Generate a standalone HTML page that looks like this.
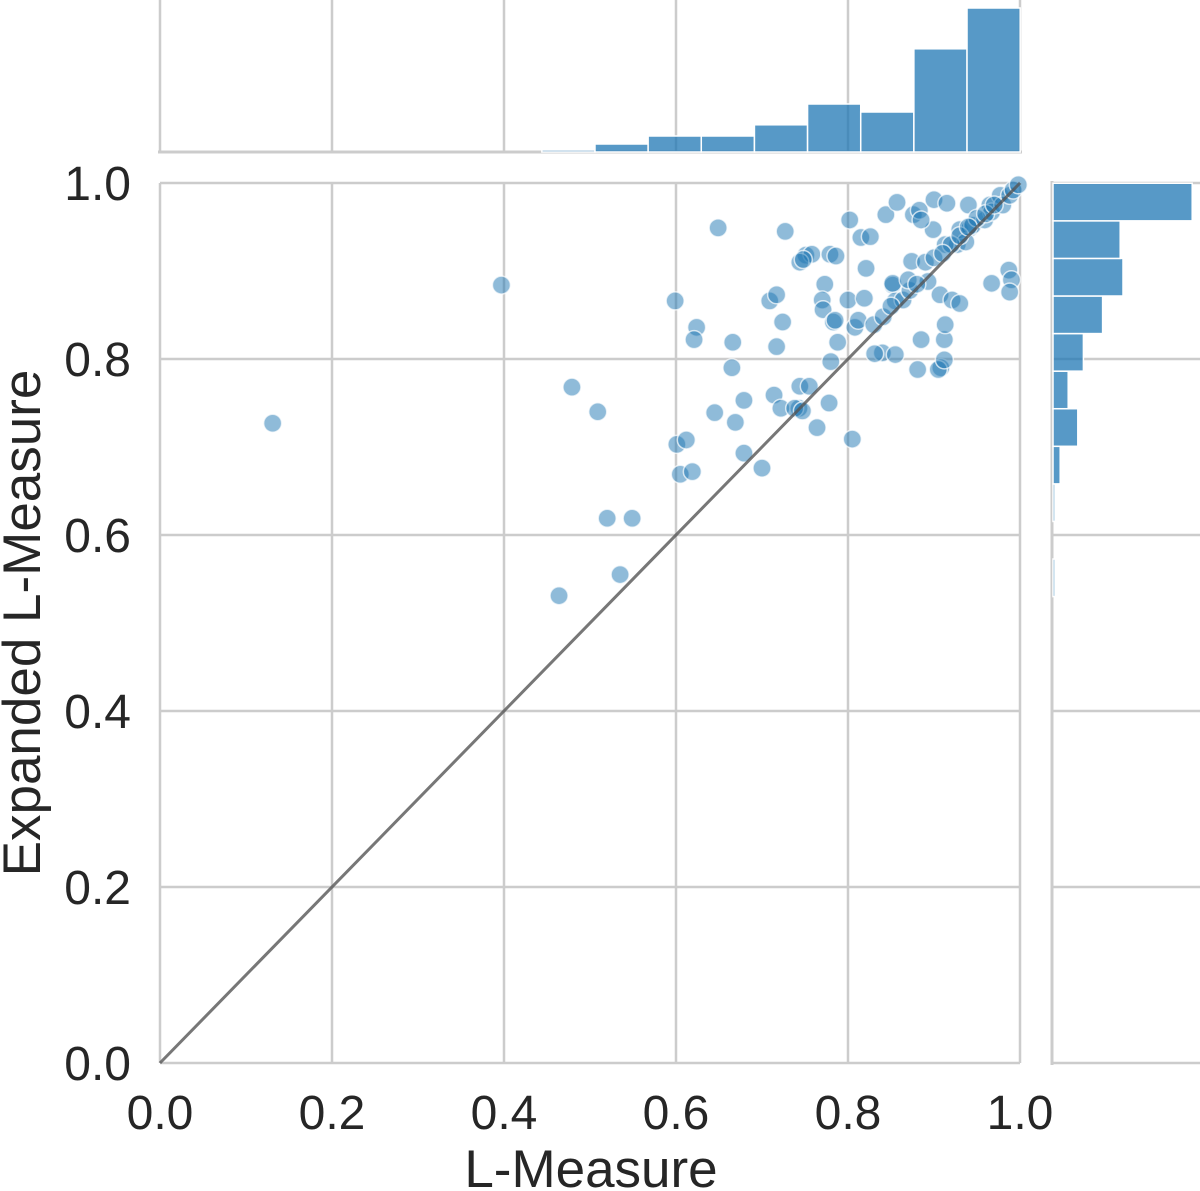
<!DOCTYPE html>
<html><head><meta charset="utf-8"><style>
html,body{margin:0;padding:0;background:#fff;}
svg{display:block;font-family:"Liberation Sans",Arial,sans-serif;}
</style></head><body>
<svg id="chart" width="1200" height="1191" viewBox="0 0 1200 1191"></svg>
<script>
const xs=[0.131,0.397,0.479,0.509,0.464,0.520,0.549,0.535,0.599,0.624,0.621,0.649,0.666,0.665,0.679,0.669,0.601,0.612,0.605,0.619,0.645,0.679,0.700,0.709,0.717,0.724,0.717,0.727,0.714,0.722,0.743,0.738,0.747,0.744,0.755,0.764,0.778,0.805,0.751,0.758,0.744,0.748,0.773,0.770,0.771,0.779,0.786,0.783,0.780,0.785,0.800,0.802,0.788,0.808,0.812,0.815,0.821,0.819,0.826,0.830,0.841,0.840,0.844,0.831,0.852,0.857,0.855,0.852,0.855,0.864,0.874,0.881,0.885,0.899,0.893,0.872,0.876,0.883,0.885,0.900,0.908,0.905,0.912,0.912,0.915,0.907,0.913,0.921,0.930,0.927,0.913,0.930,0.942,0.940,0.937,0.945,0.959,0.965,0.967,0.977,0.980,0.988,0.992,0.998,0.987,0.990,0.988,0.967,0.85,0.87,0.89,0.90,0.92,0.93,0.95,0.96,0.97,0.88,0.91,0.94];
const ys=[0.727,0.884,0.768,0.740,0.531,0.619,0.619,0.555,0.866,0.836,0.822,0.949,0.819,0.790,0.753,0.728,0.703,0.708,0.669,0.672,0.739,0.693,0.676,0.866,0.873,0.842,0.814,0.945,0.759,0.744,0.744,0.744,0.741,0.769,0.769,0.722,0.750,0.709,0.918,0.919,0.910,0.913,0.885,0.867,0.856,0.919,0.917,0.842,0.797,0.844,0.867,0.958,0.819,0.836,0.844,0.938,0.903,0.869,0.939,0.839,0.848,0.807,0.964,0.806,0.884,0.978,0.866,0.886,0.805,0.867,0.911,0.788,0.822,0.947,0.888,0.878,0.964,0.969,0.958,0.981,0.790,0.788,0.822,0.799,0.977,0.873,0.839,0.867,0.863,0.930,0.930,0.947,0.949,0.975,0.933,0.952,0.958,0.975,0.967,0.986,0.975,0.986,0.992,0.998,0.901,0.890,0.876,0.886,0.86,0.89,0.91,0.915,0.93,0.94,0.96,0.965,0.975,0.885,0.92,0.95];
const topBinStart=0.135, topBinW=0.0618;
const topCounts=[0,0,0,0,0,0.25,1,2,2,3.4,6,5,12.9,18];
const rightBinStart=0.53, rightBinW=0.0427;
const rightCounts=[0.25,0,0.25,0.9,3.1,1.9,3.8,6.2,8.75,8.4,17.4];
const ticks=[0,0.2,0.4,0.6,0.8,1.0];
const tickLabels=["0.0","0.2","0.4","0.6","0.8","1.0"];

const NS="http://www.w3.org/2000/svg";
const svg=document.getElementById('chart');
const X=v=>160+v*860, Y=v=>1063-v*880;
const TH=c=>152-c*8, RW=c=>c*8;
function mk(t,a,p){const e=document.createElementNS(NS,t);for(const k in a)e.setAttribute(k,a[k]);(p||svg).appendChild(e);return e;}
const grid="#cccccc";
ticks.forEach((t,i)=>{
  const gx=mk('line',{x1:X(t),x2:X(t),y1:183,y2:1063,stroke:grid,'stroke-width':2.5});
  
  
  const gy=mk('line',{x1:160,x2:1020,y1:Y(t),y2:Y(t),stroke:grid,'stroke-width':2.5});
  
  
  const tg=mk('line',{x1:X(t),x2:X(t),y1:0,y2:152,stroke:grid,'stroke-width':2.5});
  
  
  const rg=mk('line',{x1:1052,x2:1200,y1:Y(t),y2:Y(t),stroke:grid,'stroke-width':2.5});
  
  
  const xl=mk('text',{x:X(t),y:1129,'text-anchor':'middle','font-size':48,fill:'#262626'});
  xl.textContent=tickLabels[i];
  
  
  const yl=mk('text',{x:131,y:Y(t)+17,'text-anchor':'end','font-size':48,fill:'#262626'});
  yl.textContent=tickLabels[i];
  
  
});
const s1=mk('line',{x1:158,x2:1022,y1:152,y2:152,stroke:grid,'stroke-width':3});


const s2=mk('line',{x1:1052,x2:1052,y1:181,y2:1065,stroke:grid,'stroke-width':3});


topCounts.forEach((c,i)=>{
  if(c<=0)return;
  const x0=X(topBinStart+i*topBinW), x1=X(topBinStart+(i+1)*topBinW);
  const r=mk('rect',{x:x0,y:TH(c),width:x1-x0,height:152-TH(c),fill:'#1f77b4','fill-opacity':0.75,stroke:'#fff','stroke-width':1.5});
  
  
});
rightCounts.forEach((c,i)=>{
  if(c<=0)return;
  const y0=Y(rightBinStart+(i+1)*rightBinW), y1=Y(rightBinStart+i*rightBinW);
  const r=mk('rect',{x:1053,y:y0,width:RW(c),height:y1-y0,fill:'#1f77b4','fill-opacity':0.75,stroke:'#fff','stroke-width':1.5});
  
  
});
xs.forEach((v,i)=>{
  const c=mk('circle',{cx:X(v),cy:Y(ys[i]),r:9,fill:'#1f77b4','fill-opacity':0.5,stroke:'#fff','stroke-opacity':0.7,'stroke-width':1.5});
  
  
});
const d=mk('line',{x1:X(0),y1:Y(0),x2:X(1),y2:Y(1),stroke:'#555','stroke-opacity':0.8,'stroke-width':3});


const xt=mk('text',{x:591,y:1187,'text-anchor':'middle','font-size':53,fill:'#262626'});
xt.textContent='L-Measure';


const yt=mk('text',{x:0,y:0,'text-anchor':'middle','font-size':53,fill:'#262626',transform:'translate(40,623) rotate(-90)'});
yt.textContent='Expanded L-Measure';


</script>
</body></html>
